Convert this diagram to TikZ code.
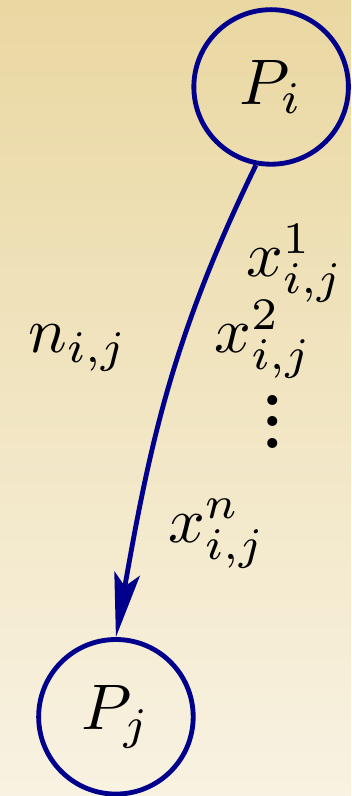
\documentclass[tikz,border=0pt]{standalone}
\usepackage{amsmath,amssymb}
\usepackage{tikz}
\usetikzlibrary{arrows.meta}

\definecolor{bgtop}{RGB}{234,216,162}
\definecolor{bgbot}{RGB}{248,242,226}
\definecolor{procblue}{RGB}{0,0,140}

\newcommand{\tightvdots}{\vbox{\baselineskip3.4pt\lineskiplimit0pt
  \hbox{\textbf{.}}\hbox{\textbf{.}}\hbox{\textbf{.}}}}

\tikzset{
  proc/.style={circle,draw=procblue,line width=0.75pt,minimum size=24pt,inner sep=0pt},
  lbl/.style={inner sep=0pt,anchor=base west}
}

\begin{document}
\begin{tikzpicture}[>={Stealth[length=10pt,width=4pt,inset=2pt]},x=1pt,y=1pt]
  \shade[top color=bgtop,bottom color=bgbot] (0,0) rectangle (54.5,123.6);
  \useasboundingbox (0,0) rectangle (54.5,123.6);

  \node[proc] (Pi) at (42.1,110.1) {$P_i$};
  \node[proc] (Pj) at (18.0,12.3) {$P_j$};

  \draw[->,line width=0.75pt,procblue] (Pi.259) to[out=244,in=80] (Pj.north);

  \node[lbl] (x1) at (38.0,80.6) {$x_{i,j}^1$};
  \node[lbl] (x2) at (33.1,68.8) {$x_{i,j}^2$};
  \node[inner sep=0pt,anchor=base] (dots) at (42.4,53.9) {\tightvdots};
  \node[lbl] (xn) at (25.9,39.4) {$x_{i,j}^n$};
  \node[lbl] (nij) at (4.2,68.8) {$n_{i,j}$};
\end{tikzpicture}
\end{document}
